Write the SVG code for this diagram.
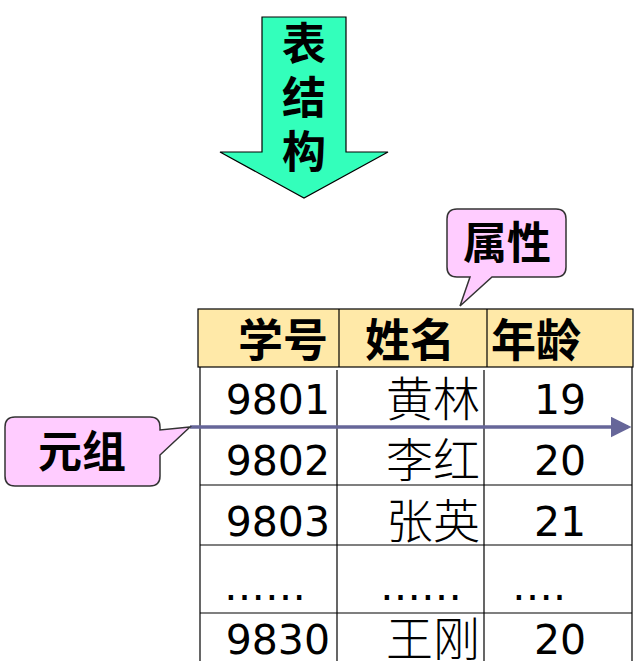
<svg xmlns="http://www.w3.org/2000/svg" width="640" height="661" viewBox="0 0 640 661">
<style>
.b{font-family:"Noto Sans CJK SC",sans-serif;font-weight:bold;fill:#000}
.n{font-family:"DejaVu Sans",sans-serif;font-size:41px;fill:#000}
.c{font-family:"Noto Sans CJK SC",sans-serif;font-weight:300;font-size:47px;fill:#000}
.ln{stroke:#000;stroke-width:1.2;fill:none}
.call{fill:#ffccff;stroke:#333;stroke-width:1.5}
</style>
<defs><marker id="ah" markerWidth="6" markerHeight="6" refX="5" refY="3" orient="auto" markerUnits="strokeWidth"><path d="M0,0L6,3L0,6z" fill="#666699"/></marker></defs>
<rect width="640" height="661" fill="#fff"/>
<g id="arrow-table-structure">
<path d="M262,17H346V152H388L304,198L220,152H262Z" fill="#33ffbb" stroke="#000" stroke-width="1.2"/>
<text class="b" font-size="44" x="304" y="60" text-anchor="middle">表</text>
<text class="b" font-size="44" x="304" y="114" text-anchor="middle">结</text>
<text class="b" font-size="44" x="304" y="168" text-anchor="middle">构</text>
</g>
<g id="table">
<rect x="198" y="309" width="435" height="58" fill="#ffe9a8" stroke="#000" stroke-width="1.2"/>
<line class="ln" x1="339" y1="309" x2="339" y2="367"/>
<line class="ln" x1="487" y1="309" x2="487" y2="367"/>
<text class="b" font-size="45" x="283" y="357" text-anchor="middle">学号</text>
<text class="b" font-size="45" x="410" y="357" text-anchor="middle">姓名</text>
<text class="b" font-size="45" x="536" y="357" text-anchor="middle">年龄</text>
<line class="ln" x1="200" y1="367" x2="200" y2="661"/>
<line class="ln" x1="337" y1="370" x2="337" y2="661"/>
<line class="ln" x1="484" y1="370" x2="484" y2="661"/>
<line class="ln" x1="632" y1="367" x2="632" y2="661"/>
<line class="ln" x1="200" y1="485" x2="632" y2="485"/>
<line class="ln" x1="200" y1="545" x2="632" y2="545"/>
<line class="ln" x1="200" y1="613" x2="632" y2="613"/>
<text class="n" x="330" y="414" text-anchor="end">9801</text>
<text class="c" x="480" y="416" text-anchor="end">黄林</text>
<text class="n" x="560" y="414" text-anchor="middle">19</text>
<text class="n" x="330" y="475" text-anchor="end">9802</text>
<text class="c" x="480" y="477" text-anchor="end">李红</text>
<text class="n" x="560" y="475" text-anchor="middle">20</text>
<text class="n" x="330" y="536" text-anchor="end">9803</text>
<text class="c" x="480" y="538" text-anchor="end">张英</text>
<text class="n" x="560" y="536" text-anchor="middle">21</text>
<text class="n" x="224" y="600">……</text>
<text class="n" x="380" y="600">……</text>
<text class="n" x="512" y="600">….</text>
<text class="n" x="330" y="654" text-anchor="end">9830</text>
<text class="c" x="480" y="656" text-anchor="end">王刚</text>
<text class="n" x="560" y="654" text-anchor="middle">20</text>
</g>
<g id="connectors">
<line x1="190" y1="427" x2="628" y2="427" stroke="#666699" stroke-width="3.5" marker-end="url(#ah)"/>
</g>
<g id="callout-attr">
<path class="call" d="M457,209H556Q566,209 566,219V267Q566,277 556,277H492L460,306L470,277H457Q447,277 447,267V219Q447,209 457,209Z"/>
<text class="b" font-size="44" x="507" y="259" text-anchor="middle">属性</text>
</g>
<g id="callout-tuple">
<path class="call" d="M15,417H150Q160,417 160,427V430L190,427L160,455V476Q160,486 150,486H15Q5,486 5,476V427Q5,417 15,417Z"/>
<text class="b" font-size="44" x="82" y="468" text-anchor="middle">元组</text>
</g>
</svg>
